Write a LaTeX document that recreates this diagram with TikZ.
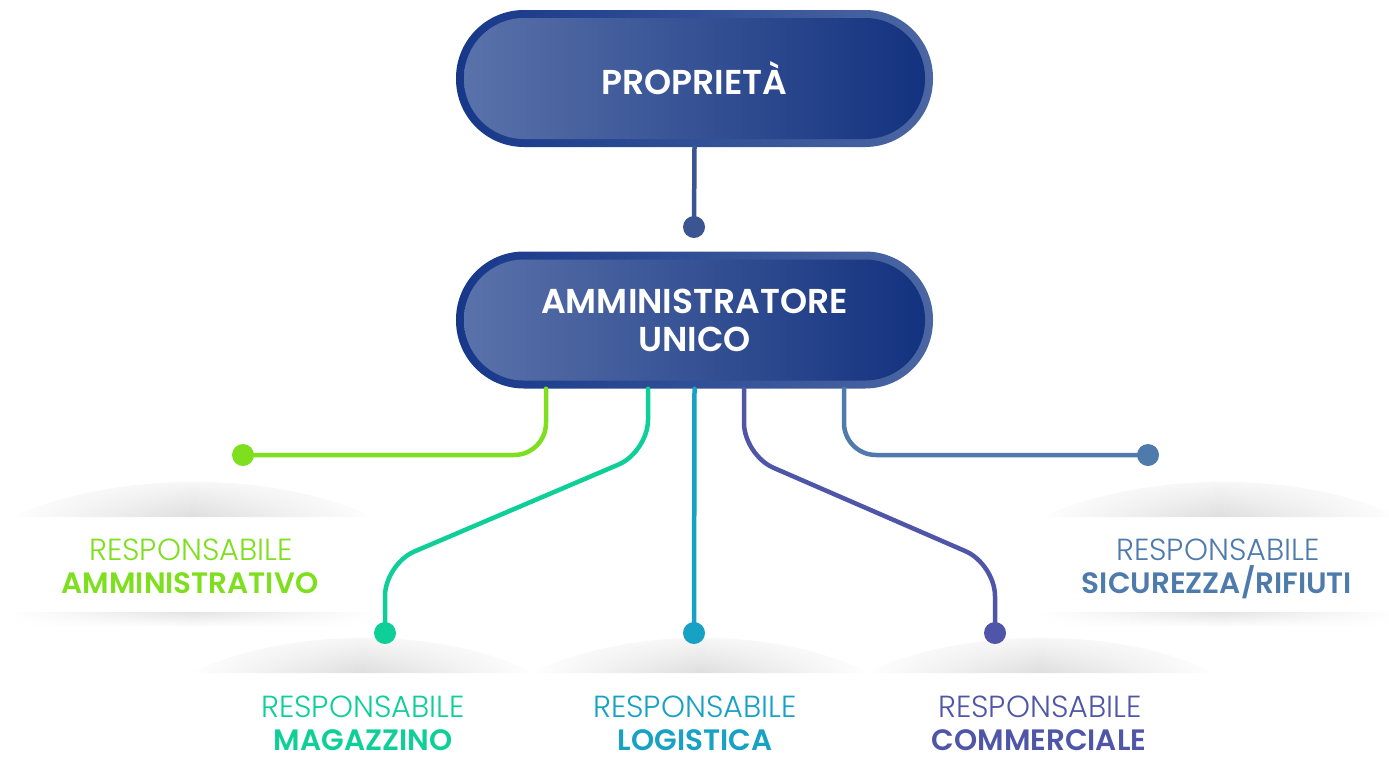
\documentclass[tikz,border=0pt]{standalone}
\usepackage{fontspec}
\setmainfont{Poppins}
\newfontfamily\lightfont{Poppins Light}
\newfontfamily\semifont{Poppins SemiBold}
\usetikzlibrary{calc,fadings}
\definecolor{cgreen}{HTML}{7EDF1E}
\definecolor{cteal}{HTML}{0ECF98}
\definecolor{ccyan}{HTML}{17A1C4}
\definecolor{cpurple}{HTML}{4F56A8}
\definecolor{csteel}{HTML}{4E7AAC}
\definecolor{bdark}{HTML}{13327F}
\definecolor{blight}{HTML}{5A72AA}
\definecolor{rdark}{HTML}{17388A}
\definecolor{rlight}{HTML}{4B66A2}
\definecolor{cline}{HTML}{3B5593}
\tikzfading[name=fadesides, left color=transparent!100, right color=transparent!100, middle color=transparent!0]
\begin{document}
\begin{tikzpicture}[x=1pt,y=-1pt,
 boxouter/.style={minimum width=477pt,minimum height=137pt,rounded corners=68pt,left color=rdark,right color=rlight,inner sep=0pt},
 boxinner/.style={minimum width=461pt,minimum height=121pt,rounded corners=60pt,left color=blight,right color=bdark,text=white,font=\semifont\fontsize{34.5}{38}\selectfont,align=center,inner sep=0pt},
 conn/.style={line width=4.5pt,line cap=round,rounded corners=32pt},
 dotn/.style={circle,fill=#1,minimum size=22pt,inner sep=0pt},
 lightlab/.style={anchor=base,font=\lightfont\fontsize{30.5}{33}\selectfont},
 boldlab/.style={anchor=base,font=\semifont\fontsize{29.5}{33}\selectfont},
 shadowtop/.style={shade,top color=white,bottom color=black!13,draw=none,path fading=fadesides},
 shadowbot/.style={shade,top color=black!11,bottom color=white,draw=none,path fading=fadesides},
]
\useasboundingbox (0,0) rectangle (1389,764);
% card shadows
\path[shadowtop] (10,517) .. controls (120,470) and (270,470) .. (375,517) -- cycle;
\path[shadowbot] (10,612) rectangle (375,627);
\path[shadowtop] (1040,517) .. controls (1150,470) and (1300,470) .. (1400,517) -- cycle;
\path[shadowbot] (1040,612) rectangle (1400,627);
\path[shadowtop] (190,673) .. controls (290,626) and (440,626) .. (535,673) -- cycle;
\path[shadowtop] (530,673) .. controls (630,626) and (775,626) .. (870,673) -- cycle;
\path[shadowtop] (865,673) .. controls (965,626) and (1120,626) .. (1215,673) -- cycle;
% dots
\node[dotn=cline] (d0) at (694,227) {};
\node[dotn=cgreen] (d1) at (243,455) {};
\node[dotn=cteal] (d2) at (385,633) {};
\node[dotn=ccyan] (d3) at (694,633) {};
\node[dotn=cpurple] (d4) at (995,633) {};
\node[dotn=csteel] (d5) at (1148,455) {};
% boxes
\node[boxouter] (prop) at (694.5,78.5) {};
\node[boxinner] (propi) at (prop.center) {PROPRIETÀ};
\node[boxouter] (amm) at (694.5,320) {};
\node[boxinner] (ammi) at (amm.center) {AMMINISTRATORE\\UNICO};
% connectors
\draw[conn,draw=cline] (prop.south) -- (d0.center);
\draw[conn,draw=cgreen] ($(amm.south)+(-148.5,0)$) |- (d1.center);
\draw[conn,draw=cteal] ($(amm.south)+(-46.5,0)$) -- (648,452) -- (385,564) -- (d2.center);
\draw[conn,draw=ccyan] (amm.south) -- (d3.center);
\draw[conn,draw=cpurple] ($(amm.south)+(49.5,0)$) -- (744,455) -- (995,564) -- (d4.center);
\draw[conn,draw=csteel] ($(amm.south)+(149.5,0)$) |- (d5.center);
% labels
\node[lightlab,text=cgreen] (l1a) at (191,560) {RESPONSABILE};
\node[boldlab,text=cgreen] (l1b) at (190,593) {AMMINISTRATIVO};
\node[lightlab,text=cteal] (l2a) at (363,717) {RESPONSABILE};
\node[boldlab,text=cteal] (l2b) at (363,750) {MAGAZZINO};
\node[lightlab,text=ccyan] (l3a) at (695,717) {RESPONSABILE};
\node[boldlab,text=ccyan] (l3b) at (695,750) {LOGISTICA};
\node[lightlab,text=cpurple] (l4a) at (1040,717) {RESPONSABILE};
\node[boldlab,text=cpurple] (l4b) at (1039,750) {COMMERCIALE};
\node[lightlab,text=csteel] (l5a) at (1218,560) {RESPONSABILE};
\node[boldlab,text=csteel] (l5b) at (1217,593) {SICUREZZA/RIFIUTI};
\end{tikzpicture}
\end{document}
